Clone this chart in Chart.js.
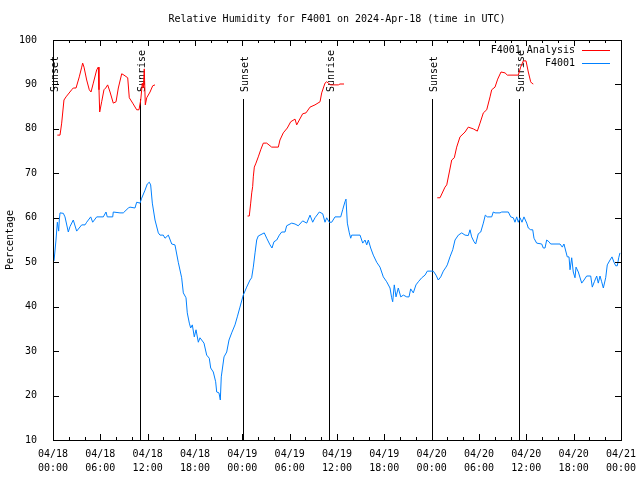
<!DOCTYPE html>
<html>
<head>
<meta charset="utf-8">
<script src="https://cdn.jsdelivr.net/npm/chart.js@4.4.1/dist/chart.umd.min.js"></script>
<style>
  body { margin: 0; background: #fff; }
  canvas { display: block; }
</style>
</head>
<body>
<canvas id="rh" width="640" height="480"></canvas>
<script>
// hours since 04/18 00:00 UTC
var blueHours = [0.13, 0.38, 0.55, 0.72, 0.80, 0.89, 1.31, 1.52, 1.94, 2.15, 2.57, 3.00, 3.64, 4.06, 4.27, 4.78, 5.03, 5.54,
  6.38, 6.72, 6.88, 7.57, 7.64, 8.49, 8.91, 9.55, 9.76, 10.39, 10.61, 11.03, 11.24, 11.66, 11.95, 12.21, 12.38, 12.59,
  12.93, 13.35, 13.56, 13.98, 14.20, 14.62, 15.05, 15.46, 15.88, 16.31, 16.52, 16.86, 17.02, 17.28, 17.45, 17.66, 17.91,
  18.13, 18.42, 18.63, 19.14, 19.48, 19.81, 19.99, 20.32, 20.62, 20.75, 21.04, 21.21, 21.33, 21.68, 22.02, 22.31, 22.65,
  23.07, 23.36, 23.70, 24.12, 24.55, 24.97, 25.18, 25.39, 25.61, 25.82, 26.02, 26.78, 27.09, 27.51, 27.76, 28.01, 28.36,
  28.69, 28.99, 29.41, 29.62, 30.26, 30.68, 31.09, 31.65, 32.16, 32.58, 32.92, 33.21, 33.76, 34.19, 34.48, 34.69, 35.02,
  35.33, 35.75, 36.47, 36.72, 37.01, 37.14, 37.31, 37.56, 37.74, 37.86, 38.92, 39.26, 39.55, 39.77, 39.97, 40.27, 40.60,
  41.03, 41.45, 41.87, 42.30, 42.72, 42.93, 43.06, 43.26, 43.48, 43.77, 44.08, 44.41, 44.84, 45.13, 45.34, 45.67, 46.01,
  46.31, 46.74, 47.16, 47.45, 48.21, 48.55, 48.84, 49.15, 49.48, 49.82, 49.98, 50.32, 50.67, 50.96, 51.38, 51.81, 52.23,
  52.64, 52.86, 53.07, 53.37, 53.58, 53.91, 54.22, 54.55, 54.80, 55.05, 55.61, 55.81, 56.03, 56.66, 56.88, 57.72, 58.02,
  58.35, 58.56, 58.78, 58.98, 59.20, 59.45, 59.70, 60.05, 60.25, 60.55, 60.81, 60.97, 61.31, 61.95, 62.15, 62.37, 62.58,
  62.87, 63.09, 64.27, 64.56, 64.77, 65.03, 65.19, 65.41, 65.54, 65.75, 65.95, 66.17, 66.30, 66.59, 67.02, 67.31, 67.65,
  68.16, 68.36, 68.62, 68.92, 69.12, 69.34, 69.55, 69.76, 70.06, 70.26, 70.61, 70.86, 71.11, 71.33, 71.53, 71.71, 71.87];
var blueRH = [50.3, 55.0, 59.0, 57.0, 59.5, 61.1, 61.0, 60.2, 56.8, 58.0, 59.5, 57.0, 58.4, 58.4, 59.0, 60.2, 59.0, 60.2,
  60.2, 61.3, 60.2, 60.2, 61.3, 61.1, 61.1, 62.2, 62.4, 62.2, 63.5, 63.3, 64.4, 66.2, 67.6, 68.0, 67.4, 63.3,
  59.5, 56.6, 56.1, 56.1, 55.4, 56.1, 54.1, 53.9, 50.0, 46.5, 43.1, 42.0, 38.6, 36.3, 35.2, 35.9, 33.2,
  34.8, 32.0, 33.0, 31.8, 29.1, 28.4, 26.2, 25.3, 23.1, 20.8, 20.6, 19.0, 24.2, 28.7, 29.8, 32.5, 34.1,
  35.9, 37.7, 39.9, 42.6, 44.4, 46.0, 46.5, 48.9, 52.1, 55.0, 55.9, 56.6, 55.4, 53.9, 53.2, 54.6, 55.0,
  56.1, 56.8, 56.8, 58.2, 58.8, 58.6, 58.2, 59.3, 58.8, 60.6, 59.0, 60.0, 61.3, 60.9, 59.0, 60.0, 59.0,
  59.0, 60.2, 60.2, 61.8, 63.6, 64.2, 58.8, 56.6, 55.4, 56.1, 56.1, 54.3, 55.0, 53.9, 55.0, 53.2, 51.6,
  50.0, 48.9, 46.7, 45.6, 44.2, 42.0, 41.1, 44.9, 42.2, 44.2, 42.2, 42.6, 42.2, 42.2, 44.0, 43.1, 44.9,
  45.6, 46.5, 47.1, 48.0, 48.0, 47.1, 46.0, 46.7, 48.0, 48.9, 49.4, 51.2, 52.8, 55.0, 56.1, 56.6, 56.1,
  56.0, 57.3, 55.7, 54.6, 54.1, 56.4, 56.8, 58.8, 60.6, 60.2, 60.2, 61.3, 61.1, 61.1, 61.3, 61.3, 60.2,
  60.0, 59.0, 60.2, 59.0, 60.0, 59.0, 60.2, 58.8, 57.7, 57.3, 57.3, 55.4, 54.3, 54.1, 53.2, 53.2, 55.0,
  54.6, 54.1, 54.1, 53.4, 54.1, 52.3, 51.2, 51.2, 48.3, 51.0, 47.8, 46.5, 48.9, 47.8, 45.3, 46.0, 46.9,
  46.9, 44.4, 45.6, 46.9, 45.3, 46.9, 45.6, 44.2, 46.5, 49.4, 50.5, 51.2, 50.0, 49.2, 49.2, 51.0, 52.1];

// analysis runs, null marks a gap between runs
var redHours = [0.55, 0.89, 1.10, 1.39, 1.65, 2.37, 2.57, 2.92, 3.33, 3.64, 3.76, 3.93, 4.27, 4.60, 4.82, 5.11, 5.54, 5.74,
  5.83, 5.92, 6.17, 6.46, 6.68, 6.93, 7.23, 7.64, 7.99, 8.28, 8.71, 9.00, 9.47, 9.67, 10.10, 10.61, 10.90, 11.12, 11.32,
  11.45, 11.57, 11.70, 11.88, 12.30, 12.64, 12.93,
  18.0,
  24.66, 24.88, 25.06, 25.19, 25.31, 25.39, 25.52, 25.73, 26.02, 26.33, 26.66, 27.09, 27.72, 28.56, 28.77, 29.19, 29.70,
  30.13, 30.68, 30.89, 31.22, 31.65, 32.07, 32.58, 33.21, 33.85, 34.06, 34.48, 34.69, 35.20, 36.17, 36.38, 36.89,
  42.0,
  48.71, 49.06, 49.69, 49.91, 50.24, 50.54, 50.87, 51.17, 51.59, 52.23, 52.64, 53.28, 53.79, 54.13, 54.55, 54.98, 55.40,
  55.61, 56.03, 56.37, 56.79, 57.30, 57.59, 58.98, 59.28, 59.62, 59.96, 60.25, 60.55, 60.68, 60.88];
var redRH = [78.6, 78.6, 81.3, 86.5, 87.2, 88.8, 89.2, 89.2, 91.7, 93.9, 94.8, 93.9, 91.0, 88.8, 88.3, 90.3, 93.3, 93.9,
  88.8, 83.8, 86.1, 88.8, 89.2, 89.9, 88.3, 85.8, 86.1, 89.2, 92.4, 92.1, 91.5, 87.0, 85.8, 84.3, 84.3, 86.5, 90.3,
  89.2, 93.5, 85.4, 87.0, 88.3, 89.7, 89.9,
  null,
  60.4, 60.4, 63.3, 65.6, 67.0, 69.2, 71.4, 72.3, 73.7, 75.3, 76.8, 76.8, 75.9, 75.9, 77.5, 79.1, 80.2,
  81.6, 82.2, 80.9, 82.0, 83.4, 83.6, 84.9, 85.4, 86.1, 88.1, 90.3, 90.6, 89.9, 89.9, 90.1, 90.1,
  null,
  64.5, 64.5, 66.9, 67.4, 70.3, 73.0, 73.5, 75.9, 78.2, 79.3, 80.4, 80.0, 79.5, 81.3, 83.6, 84.3, 87.2,
  88.8, 89.4, 91.2, 92.8, 92.6, 92.1, 92.1, 93.9, 95.3, 95.3, 92.8, 90.6, 90.3, 90.1];

var sunHours = [0, 11.0, 24.08, 35.0, 48.0, 59.05];
var sunNames = ['Sunset', 'Sunrise', 'Sunset', 'Sunrise', 'Sunset', 'Sunrise'];
var dayLabels = ['04/18', '04/19', '04/20', '04/21'];

var FONT = '10px "DejaVu Sans Mono", monospace';

function pairs(xs, ys) {
    var out = [];
    for (var i = 0; i < xs.length; i++) out.push({x: xs[i], y: ys[i]});
    return out;
}

var gnuplotFrame = {
    id: 'gnuplotFrame',
    beforeDatasetsDraw: function(chart) {
        var ctx = chart.ctx, a = chart.chartArea, xs = chart.scales.x;
        ctx.save();
        ctx.strokeStyle = '#000';
        ctx.lineWidth = 1;
        ctx.fillStyle = '#000';
        ctx.font = FONT;
        for (var i = 0; i < sunHours.length; i++) {
            var px = Math.round(xs.getPixelForValue(sunHours[i])) + 0.5;
            ctx.beginPath();
            ctx.moveTo(px, a.top + 59);
            ctx.lineTo(px, a.bottom);
            ctx.stroke();
            ctx.save();
            ctx.translate(px + 2, a.top + 52);
            ctx.rotate(-Math.PI / 2);
            ctx.textAlign = 'left';
            ctx.textBaseline = 'middle';
            ctx.fillText(sunNames[i], 0, 0);
            ctx.restore();
        }
        ctx.restore();
    },
    afterDraw: function(chart) {
        var ctx = chart.ctx, a = chart.chartArea, xs = chart.scales.x, ys = chart.scales.y;
        ctx.save();
        ctx.strokeStyle = '#000';
        ctx.lineWidth = 1;
        ctx.strokeRect(Math.round(a.left) + 0.5, Math.round(a.top) + 0.5,
            Math.round(a.right - a.left), Math.round(a.bottom - a.top));
        ctx.beginPath();
        for (var h = 0; h <= 72; h += 2) {
            var px = Math.round(xs.getPixelForValue(h)) + 0.5;
            var len = (h % 6 == 0) ? 6 : 3;
            ctx.moveTo(px, a.bottom); ctx.lineTo(px, a.bottom - len);
            ctx.moveTo(px, a.top); ctx.lineTo(px, a.top + len);
        }
        for (var v = 10; v <= 100; v += 10) {
            var py = Math.round(ys.getPixelForValue(v)) + 0.5;
            ctx.moveTo(a.left, py); ctx.lineTo(a.left + 6, py);
            ctx.moveTo(a.right, py); ctx.lineTo(a.right - 6, py);
        }
        ctx.stroke();

        // title
        ctx.fillStyle = '#000';
        ctx.font = FONT;
        ctx.textAlign = 'center';
        ctx.textBaseline = 'middle';
        ctx.fillText('Relative Humidity for F4001 on 2024-Apr-18 (time in UTC)', (a.left + a.right) / 2, 19);

        // legend, gnuplot style
        ctx.textAlign = 'right';
        var sets = chart.data.datasets;
        for (var i = 0; i < sets.length; i++) {
            var y = 50 + i * 13;
            ctx.fillStyle = '#000';
            ctx.fillText(sets[i].label, a.right - 46, y);
            ctx.strokeStyle = sets[i].borderColor;
            ctx.beginPath();
            ctx.moveTo(a.right - 39, y + 0.5);
            ctx.lineTo(a.right - 11, y + 0.5);
            ctx.stroke();
        }
        ctx.restore();
    }
};

new Chart(document.getElementById('rh').getContext('2d'), {
    type: 'line',
    data: {
        datasets: [
            {label: 'F4001 Analysis', data: pairs(redHours, redRH), borderColor: 'rgb(255,0,0)',
             borderWidth: 1, pointRadius: 0, tension: 0, spanGaps: false},
            {label: 'F4001', data: pairs(blueHours, blueRH), borderColor: 'rgb(0,128,255)',
             borderWidth: 1, pointRadius: 0, tension: 0}
        ]
    },
    options: {
        responsive: false,
        devicePixelRatio: 1,
        animation: false,
        layout: {padding: {top: 40, right: 19, left: 0, bottom: 0}},
        plugins: {legend: {display: false}, tooltip: {enabled: false}, title: {display: false}},
        scales: {
            x: {
                type: 'linear', min: 0, max: 72,
                grid: {display: false},
                border: {display: false},
                afterFit: function(s) { s.height = 40; },
                ticks: {
                    stepSize: 6, autoSkip: false, maxRotation: 0, padding: 0,
                    color: '#000', font: {family: '"DejaVu Sans Mono", monospace', size: 10, lineHeight: 1.35},
                    callback: function(v) {
                        var d = Math.floor(v / 24), hh = v % 24;
                        return [dayLabels[d], (hh < 10 ? '0' : '') + hh + ':00'];
                    }
                }
            },
            y: {
                min: 10, max: 100,
                grid: {display: false},
                border: {display: false},
                afterFit: function(s) { s.width = 53; },
                ticks: {stepSize: 10, padding: 8, color: '#000',
                        font: {family: '"DejaVu Sans Mono", monospace', size: 10}},
                title: {display: true, text: 'Percentage', color: '#000', padding: {top: 4, bottom: 0},
                        font: {family: '"DejaVu Sans Mono", monospace', size: 10}}
            }
        }
    },
    plugins: [gnuplotFrame]
});
</script>
</body>
</html>
